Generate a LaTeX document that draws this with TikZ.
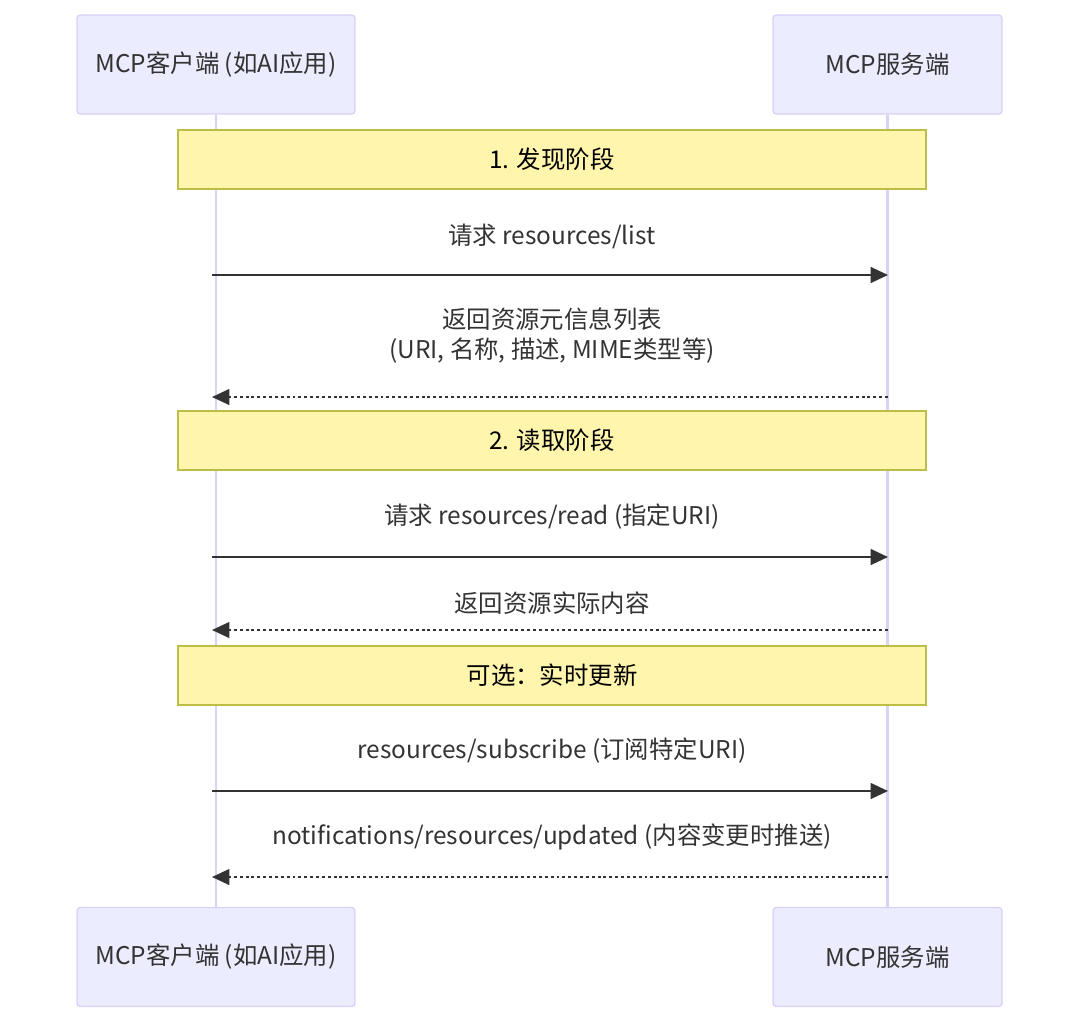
\documentclass[tikz,border=0pt]{standalone}
\usepackage{fontspec}
\setmainfont{Noto Sans CJK SC}
\usepackage{tikz}
\usetikzlibrary{arrows.meta,positioning,calc}
\definecolor{actorfill}{RGB}{236, 236, 255}
\definecolor{actorline}{RGB}{217, 208, 245}
\definecolor{lifeline}{RGB}{218, 210, 245}
\definecolor{notefill}{RGB}{255, 245, 173}
\definecolor{noteline}{RGB}{190, 190, 70}
\definecolor{msgtext}{RGB}{51, 51, 51}

\begin{document}
\begin{tikzpicture}[x=0.75pt,y=-0.75pt,
    every node/.style={font=\fontsize{18.3}{22.5}\selectfont,text=msgtext},
    actorbox/.style={draw=actorline,fill=actorfill,line width=1pt,rounded corners=2.5pt,minimum height=74.25pt},
    notebox/.style={draw=noteline,fill=notefill,line width=0.9pt,minimum width=561pt,minimum height=44.25pt,text=black},
    msg/.style={draw=msgtext,line width=1.5pt,-{Triangle[length=13pt,width=11.8pt]}},
    reply/.style={msg,dash pattern=on 2.2pt off 2.2pt}]
    \useasboundingbox (0,0) rectangle (1080,1024);
    % actors
    \node[actorbox,minimum width=208.5pt] (clientTop) at (216,64.5) {MCP客户端 (如AI应用)};
    \node[actorbox,minimum width=171.75pt] (serverTop) at (887.5,64.5) {MCP服务端};
    \node[actorbox,minimum width=208.5pt] (clientBot) at (216,957) {MCP客户端 (如AI应用)};
    \node[actorbox,minimum width=171.75pt] (serverBot) at (887.5,957) {MCP服务端};
    \draw[lifeline,line width=1.8pt] (clientTop.south) -- (clientBot.north);
    \draw[lifeline,line width=1.8pt] (serverTop.south) -- (serverBot.north);
    % message ends
    \foreach \i/\y in {1/275,2/397,3/557,4/630,5/791,6/877} {
        \coordinate (c\i) at (212,\y);
        \coordinate (s\i) at (888,\y);
    }
    % notes
    \node[notebox] (phaseOne) at (552,159.5) {1. 发现阶段};
    \node[notebox] (phaseTwo) at (552,440.5) {2. 读取阶段};
    \node[notebox] (phaseOpt) at (552,675.5) {可选：实时更新};
    % messages
    \draw[msg] (c1) -- (s1);
    \node (listReq) at (552,236) {请求 resources/list};
    \draw[reply] (s2) -- (c2);
    \node[align=center] (listRes) at (552,336) {返回资源元信息列表\\(URI, 名称, 描述, MIME类型等)};
    \draw[msg] (c3) -- (s3);
    \node (readReq) at (552,517) {请求 resources/read (指定URI)};
    \draw[reply] (s4) -- (c4);
    \node (readRes) at (552,603) {返回资源实际内容};
    \draw[msg] (c5) -- (s5);
    \node (subReq) at (552,751) {resources/subscribe (订阅特定URI)};
    \draw[reply] (s6) -- (c6);
    \node (notify) at (552,837) {notifications/resources/updated (内容变更时推送)};
\end{tikzpicture}
\end{document}
